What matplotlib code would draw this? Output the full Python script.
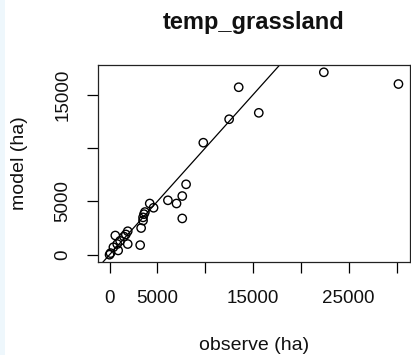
import matplotlib
matplotlib.use("Agg")
import matplotlib.pyplot as plt
from matplotlib.patches import Rectangle
import numpy as np

plt.rcParams['font.family'] = ['Liberation Sans', 'DejaVu Sans']

title = "temp_grassland"
x_label = "observe (ha)"
y_label = "model (ha)"

observe = [0, 100, 400, 900, 800, 1100, 600, 1500, 1700, 1900, 1900, 3200,
           3300, 3500, 3500, 3600, 3700, 4200, 4600, 6100, 7000, 7600, 8000,
           7600, 9800, 12500, 13500, 15600, 22400, 30200]
model = [0, 150, 700, 400, 1000, 1300, 1800, 1700, 1900, 2200, 1000, 900,
         2500, 3200, 3500, 3800, 4000, 4800, 4400, 5100, 4800, 5500, 6600,
         3400, 10500, 12700, 15700, 13300, 17100, 16000]

x_ticks = [0, 5000, 10000, 15000, 20000, 25000, 30000]
x_ticklabels = ["0", "5000", "", "15000", "", "25000", ""]
y_ticks = [0, 5000, 10000, 15000]
y_ticklabels = ["0", "5000", "", "15000"]

W, H = 411, 355
fig = plt.figure(figsize=(W / 100, H / 100), dpi=100)
fig.patch.set_facecolor("white")
fig.patches.append(Rectangle((0, 0), 5 / W, 1, transform=fig.transFigure,
                             facecolor="#eef7fc", edgecolor="none", zorder=0))

L, R, T, B = 98, 410, 65, 262
ax = fig.add_axes([L / W, 1 - B / H, (R - L) / W, (B - T) / H])

ax.scatter(observe, model, s=36, facecolors="none", edgecolors="black",
           linewidths=1.0, zorder=3)


def rlim(v):
    lo, hi = min(v), max(v)
    pad = 0.04 * (hi - lo)
    return lo - pad, hi + pad


xlim = rlim(observe)
ylim = rlim(model)
ax.set_xlim(xlim)
ax.set_ylim(ylim)

lo = min(xlim[0], ylim[0])
hi = max(xlim[1], ylim[1])
ax.plot([lo, hi], [lo, hi], color="black", lw=0.9, zorder=2)

ax.set_xticks(x_ticks)
ax.set_xticklabels(x_ticklabels)
ax.set_yticks(y_ticks)
ax.set_yticklabels(y_ticklabels, rotation=90, va="center")

ax.tick_params(axis="both", length=8, width=0.9, color="black",
               labelsize=13.5, labelcolor="#111111")
ax.tick_params(axis="x", pad=12)
ax.tick_params(axis="y", pad=11)
for s in ax.spines.values():
    s.set_linewidth(0.9)
    s.set_color("#222222")

fig.text((L + R) / 2 / W, 1 - 22 / H, title, ha="center", va="center",
         fontsize=17, fontweight="bold", color="#111111")
fig.text((L + R) / 2 / W, 1 - 345 / H, x_label, ha="center", va="center",
         fontsize=14, color="#111111")
fig.text(20 / W, 1 - 163 / H, y_label, ha="center", va="center",
         fontsize=14, rotation=90, color="#111111")

fig.savefig("out.png", dpi=100)
